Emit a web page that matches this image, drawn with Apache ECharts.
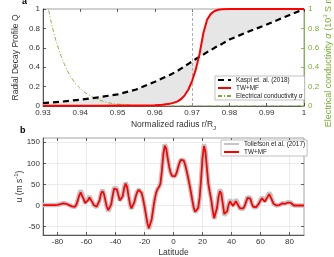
<!DOCTYPE html>
<html><head><meta charset="utf-8">
<script src="https://cdn.jsdelivr.net/npm/echarts@6/dist/echarts.min.js"></script>
<style>html,body{margin:0;padding:0;background:#fff}#c{width:334px;height:257px}</style>
</head><body><div id="c"></div>
<script>
// ---------- Panel a data ----------
const radius = [0.930,0.935,0.940,0.945,0.950,0.955,0.960,0.962,0.964,0.966,0.967,0.968,0.969,0.970,0.971,0.972,0.973,0.974,0.975,0.976,0.977,0.978,0.980,0.985,0.990,0.995,1.000];
const kaspiQ = [0.030,0.045,0.065,0.090,0.120,0.170,0.250,0.285,0.320,0.360,0.385,0.410,0.435,0.460,0.485,0.510,0.530,0.555,0.575,0.600,0.620,0.640,0.685,0.765,0.840,0.920,1.000];
const twmfQ  = [0.003,0.003,0.003,0.003,0.004,0.005,0.008,0.013,0.022,0.045,0.070,0.110,0.170,0.260,0.380,0.540,0.750,0.890,0.950,0.980,0.993,0.998,1.000,1.000,1.000,1.000,1.000];
const condRadius = [0.930,0.931,0.932,0.933,0.934,0.935,0.936,0.937,0.938,0.939,0.940,0.942,0.944,0.946,0.948,0.950,0.955,0.960,0.970,0.980,0.990,1.000];
const condSigma  = [1.35,1.10,0.90,0.74,0.61,0.50,0.41,0.33,0.27,0.22,0.18,0.12,0.08,0.05,0.03,0.02,0.006,0.002,0.0,0.0,0.0,0.0];
const dividerR = 0.9718;

// ---------- Panel b data ----------
const latitude = [-90,-86,-82,-80,-78,-76,-74,-72,-70,-69,-68,-67,-66,-65,-64,-63,-62,-61,-60,-59,-58,-57,-56,-55,-54,-53,-52,-51,-50,-49,-48,-47,-46,-45,-44,-43,-42,-41,-40,-39,-38,-37,-36,-35,-34,-33,-32,-31,-30,-29,-28,-27,-26,-25,-24,-23,-22,-21,-20,-19,-18,-17,-16,-15,-14,-13,-12,-11,-10,-9,-8,-7,-6,-5,-4,-3,-2,-1,0,1,2,3,4,5,6,7,8,9,10,11,12,13,14,15,16,17,18,19,20,21,22,23,24,25,26,27,28,29,30,31,32,33,34,35,36,37,38,39,40,41,42,43,44,45,46,47,48,49,50,51,52,53,54,55,56,57,58,59,60,61,62,63,64,65,66,67,68,69,70,71,72,73,74,75,76,77,78,79,80,81,82,83,84,86,88,90];
const twmfU = [1,1,1,1.5,3,5,4,1,-2,-3,-3,2,12,24,31,27,15,6,5,12,19,17,8,1,-2,-3,-1,12,28,34,28,12,-3,-11,-10,2,22,40,44,38,24,12,10,22,42,52,44,22,3,-7,-4,8,22,32,37,37,30,16,-2,-22,-42,-54,-50,-32,-8,14,30,39,44,52,82,122,142,134,112,92,78,70,67,69,76,88,100,108,111,107,97,83,67,50,32,12,-6,-15,-16,-6,18,60,112,141,128,90,52,32,14,-10,-30,-27,-6,20,34,28,4,-20,-24,-14,2,10,7,-1,3,10,7,-2,-7,-9,-7,-2,8,18,21,16,4,-3,-5,-4,-1,5,12,17,14,9,11,21,27,23,12,4,1,0,0,1,3,5,5,4,5,7,8,6,2,0,0,0,0,0];
const tollefsonU = [1,1,1,1.5,3,6,4,1,-2,-4,-4,2,14,27,35,29,16,6,6,14,22,19,9,1,-3,-4,-1,13,30,37,30,12,-4,-14,-13,2,24,42,46,40,25,12,10,23,44,54,46,23,3,-8,-5,8,23,33,38,38,31,16,-2,-23,-43,-56,-52,-33,-8,14,30,39,44,53,84,124,145,136,113,92,78,70,67,69,76,88,100,108,112,108,97,83,67,50,32,12,-7,-16,-17,-6,19,62,115,145,131,92,53,33,15,-11,-32,-29,-6,22,38,31,5,-23,-27,-15,3,14,10,0,5,14,9,-2,-8,-10,-8,-2,9,20,24,18,5,-3,-6,-5,-1,6,14,19,16,10,13,24,30,25,13,4,1,0,0,1,3,5,6,5,6,8,9,7,2,0,0,0,0,0];
const latTicks = [-80,-60,-40,-20,0,20,40,60,80];
const uTicks = [-50,0,50,100,150];

const zip = (xs, ys) => xs.map((x, i) => [x, ys[i]]);
const FONT = '"Liberation Sans", Arial, sans-serif';
const AX = '#3a3a3a';
const LBL = '#333';
const GREEN = '#77ac30';
const FRAME = '#8a8a8a';

const chart = echarts.init(document.getElementById('c'), null, {renderer: 'canvas'});
const tickIn = (c) => ({show: true, inside: true, length: 3, lineStyle: {color: c || AX, width: 0.8}});
const option = {
  animation: false,
  textStyle: {fontFamily: FONT},
  graphic: [
    {type: 'text', left: 22, top: -3, style: {text: 'a', font: 'bold 9px ' + FONT, fill: '#000'}},
    {type: 'text', left: 20, top: 126, style: {text: 'b', font: 'bold 9px ' + FONT, fill: '#000'}}
  ],
  grid: [
    {left: 43, top: 9, width: 261, height: 97, show: true, borderColor: FRAME, borderWidth: 0.8, containLabel: false, outerBoundsMode: 'none'},
    {left: 43, top: 138, width: 261, height: 97, show: true, borderColor: FRAME, borderWidth: 0.8, containLabel: false, outerBoundsMode: 'none'}
  ],
  xAxis: [
    {gridIndex: 0, type: 'value', min: 0.93, max: 1, interval: 0.01,
     axisLine: {onZero: false, lineStyle: {color: AX, width: 0.8}}, axisTick: tickIn(),
     axisLabel: {fontSize: 8, color: LBL, margin: 3}, splitLine: {show: false},
     name: '{t|Normalized radius r/R}{s|J}', nameLocation: 'middle', nameGap: 12, nameMoveOverlap: false,
     nameTextStyle: {color: LBL, rich: {t: {fontSize: 8.5, lineHeight: 13, verticalAlign: 'middle', color: LBL, fontFamily: FONT}, s: {fontSize: 6, lineHeight: 13, verticalAlign: 'bottom', color: LBL, fontFamily: FONT}}}},
    {gridIndex: 0, type: 'value', position: 'top', min: 0.93, max: 1, interval: 0.01,
     axisLine: {show: false, onZero: false}, axisTick: tickIn(), axisLabel: {show: false}, splitLine: {show: false}},
    {gridIndex: 1, type: 'value', min: -90, max: 90,
     axisLine: {onZero: false, lineStyle: {color: AX, width: 0.8}},
     axisTick: Object.assign(tickIn(), {customValues: latTicks}),
     axisLabel: {fontSize: 8, color: LBL, margin: 3, customValues: latTicks},
     splitLine: {show: true, lineStyle: {color: '#e6e6e6', width: 0.8}},
     name: 'Latitude', nameLocation: 'middle', nameGap: 13, nameMoveOverlap: false,
     nameTextStyle: {fontSize: 8.5, color: LBL}},
    {gridIndex: 1, type: 'value', position: 'top', min: -90, max: 90,
     axisLine: {show: false, onZero: false}, axisTick: Object.assign(tickIn(), {customValues: latTicks}),
     axisLabel: {show: false, customValues: latTicks}, splitLine: {show: false}}
  ],
  yAxis: [
    {gridIndex: 0, type: 'value', min: 0, max: 1, interval: 0.2,
     axisLine: {show: true, onZero: false, lineStyle: {color: AX, width: 0.8}}, axisTick: tickIn(),
     axisLabel: {fontSize: 8, color: LBL, margin: 3}, splitLine: {show: false},
     name: 'Radial Decay Profile Q', nameLocation: 'middle', nameGap: 23, nameRotate: 90, nameMoveOverlap: false,
     nameTextStyle: {fontSize: 8.5, color: LBL}},
    {gridIndex: 0, type: 'value', position: 'right', min: 0, max: 1, interval: 0.2,
     axisLine: {show: true, onZero: false, lineStyle: {color: GREEN, width: 0.8}}, axisTick: tickIn(GREEN),
     axisLabel: {fontSize: 8, color: GREEN, margin: 4}, splitLine: {show: false},
     name: '{t|Electrical conductivity }{i|σ}{t| (10}{p|3}{t| S m}{p|-1}{t|)}', nameLocation: 'middle', nameGap: 18, nameRotate: 90, nameMoveOverlap: false,
     nameTextStyle: {color: GREEN, rich: {
       t: {fontSize: 9, lineHeight: 13, verticalAlign: 'middle', color: GREEN, fontFamily: FONT},
       i: {fontSize: 9, lineHeight: 13, verticalAlign: 'middle', color: GREEN, fontStyle: 'italic', fontFamily: FONT},
       p: {fontSize: 6, lineHeight: 13, verticalAlign: 'top', color: GREEN, fontFamily: FONT}}}},
    {gridIndex: 1, type: 'value', min: -70, max: 160,
     axisLine: {show: true, onZero: false, lineStyle: {color: AX, width: 0.8}},
     axisTick: Object.assign(tickIn(), {customValues: uTicks}),
     axisLabel: {fontSize: 8, color: LBL, margin: 3, customValues: uTicks},
     splitLine: {show: true, lineStyle: {color: '#e6e6e6', width: 0.8}},
     name: '{t|u (m s}{p|-1}{t|)}', nameLocation: 'middle', nameGap: 17, nameRotate: 90, nameMoveOverlap: false,
     nameTextStyle: {color: LBL, rich: {
       t: {fontSize: 8.5, lineHeight: 13, verticalAlign: 'middle', color: LBL, fontFamily: FONT},
       p: {fontSize: 6, lineHeight: 13, verticalAlign: 'top', color: LBL, fontFamily: FONT}}}},
    {gridIndex: 1, type: 'value', position: 'right', min: -70, max: 160,
     axisLine: {show: false, onZero: false}, axisTick: Object.assign(tickIn(), {customValues: uTicks}),
     axisLabel: {show: false, customValues: uTicks}, splitLine: {show: false}}
  ],
  legend: [
    {orient: 'vertical', left: 215, top: 76, itemWidth: 13, itemHeight: 7, itemGap: 2,
     padding: [1, 2, 1, 2], borderColor: '#999', borderWidth: 0.6, backgroundColor: '#fff',
     itemStyle: {opacity: 0},
     data: ['Kaspi et. al. (2018)', 'TW+MF', 'Electrical conductivity σ'],
     formatter: (n) => n === 'Electrical conductivity σ' ? 'Electrical conductivity {i|σ}' : n,
     textStyle: {fontSize: 6.4, color: '#222', fontFamily: FONT, rich: {i: {fontSize: 6.4, fontStyle: 'italic', fontFamily: FONT, color: '#222'}}}},
    {orient: 'vertical', left: 221, top: 140, itemWidth: 15, itemHeight: 7, itemGap: 2,
     padding: [1, 2, 1, 2], borderColor: '#999', borderWidth: 0.6, backgroundColor: '#fff',
     itemStyle: {opacity: 0},
     data: ['Tollefson et al. (2017)', 'TW+MF '],
     textStyle: {fontSize: 6.4, color: '#222', fontFamily: FONT}}
  ],
  series: [
    {type: 'custom', name: 'fill', xAxisIndex: 0, yAxisIndex: 0, silent: true, z: 1,
     data: [[dividerR, 0.5]],
     renderItem: (params, api) => {
       const pts = [];
       radius.forEach((r, i) => pts.push(api.coord([r, kaspiQ[i]])));
       for (let i = radius.length - 1; i >= 0; i--) pts.push(api.coord([radius[i], twmfQ[i]]));
       return {type: 'polygon', shape: {points: pts}, style: {fill: '#e6e6e6', stroke: null}};
     }},
    {type: 'line', name: 'Electrical conductivity σ', xAxisIndex: 0, yAxisIndex: 1, z: 3,
     data: zip(condRadius, condSigma), symbol: 'none', smooth: true,
     lineStyle: {color: GREEN, width: 0.9, type: [4, 2, 1, 2]}, itemStyle: {color: GREEN}},
    {type: 'line', name: 'Kaspi et. al. (2018)', xAxisIndex: 0, yAxisIndex: 0, z: 4,
     data: zip(radius, kaspiQ), symbol: 'none',
     lineStyle: {color: '#000', width: 2.2, type: [6, 4]}, itemStyle: {color: '#000'},
     markLine: {silent: true, symbol: 'none', label: {show: false},
       lineStyle: {color: '#9a9a9a', type: [3, 2], width: 0.8}, data: [{xAxis: dividerR}]}},
    {type: 'line', name: 'TW+MF', xAxisIndex: 0, yAxisIndex: 0, z: 5,
     data: zip(radius, twmfQ), symbol: 'none',
     lineStyle: {color: '#ff0000', width: 2}, itemStyle: {color: '#ff0000'}},
    {type: 'line', name: 'Tollefson et al. (2017)', xAxisIndex: 2, yAxisIndex: 2, z: 3,
     data: zip(latitude, tollefsonU), symbol: 'none',
     lineStyle: {color: '#c4c4c4', width: 4.5}, itemStyle: {color: '#c4c4c4'}},
    {type: 'line', name: 'TW+MF ', xAxisIndex: 2, yAxisIndex: 2, z: 4,
     data: zip(latitude, twmfU), symbol: 'none',
     lineStyle: {color: '#ff0000', width: 1.8}, itemStyle: {color: '#ff0000'}}
  ]
};
chart.setOption(option);
</script>
</body></html>
